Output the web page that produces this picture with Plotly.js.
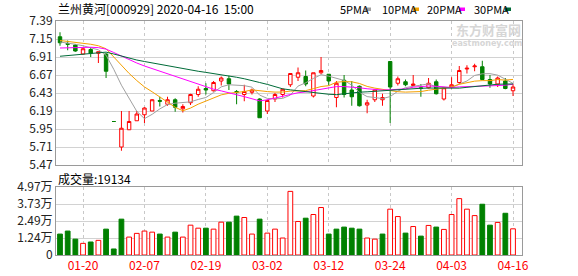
<!DOCTYPE html>
<html><head><meta charset="utf-8">
<script src="https://cdn.plot.ly/plotly-3.0.1.min.js"></script>
<style>html,body{margin:0;padding:0;background:#fff}#chart{width:578px;height:276px}</style>
</head><body><div id="chart"></div>
<script>
// ---------- data ----------
const stockName = '兰州黄河';
const stockCode = '000929';
const stampDate = '2020-04-16';
const stampTime = '15:00';
const dates = ['01-15','01-16','01-17','01-20','01-21','01-22','01-23','02-03','02-04','02-05',
  '02-06','02-07','02-10','02-11','02-12','02-13','02-14','02-17','02-18','02-19',
  '02-20','02-21','02-24','02-25','02-26','02-27','02-28','03-02','03-03','03-04',
  '03-05','03-06','03-09','03-10','03-11','03-12','03-13','03-16','03-17','03-18',
  '03-19','03-20','03-23','03-24','03-25','03-26','03-27','03-30','03-31','04-01',
  '04-02','04-03','04-07','04-08','04-09','04-10','04-13','04-14','04-15','04-16'];
const tickDates = ['01-20','02-07','02-19','03-02','03-12','03-24','04-03','04-16'];
const opens  = [7.18,7.09,7.07,6.95,7.01,6.96,6.95,6.05,5.71,5.94, 6.06,6.14,6.19,6.33,6.28,6.34,6.22,6.30,6.41,6.49,
  6.46,6.59,6.62,6.45,6.41,6.44,6.35,6.19,6.35,6.41, 6.54,6.64,6.65,6.39,6.70,6.68,6.37,6.60,6.47,6.52,
  6.27,6.34,6.34,6.85,6.56,6.58,6.53,6.50,6.50,6.58, 6.35,6.51,6.57,6.75,6.78,6.78,6.61,6.55,6.59,6.46];
const highs  = [7.24,7.13,7.08,7.03,7.04,6.98,6.96,6.05,6.19,6.19, 6.19,6.24,6.35,6.38,6.38,6.36,6.28,6.42,6.52,6.56,
  6.59,6.65,6.66,6.47,6.54,6.49,6.36,6.34,6.43,6.49, 6.69,6.77,6.73,6.70,6.91,6.68,6.59,6.67,6.59,6.53,
  6.34,6.48,6.42,6.85,6.65,6.61,6.67,6.55,6.63,6.61, 6.51,6.64,6.79,6.80,6.82,6.86,6.67,6.65,6.63,6.55];
const lows   = [7.06,7.00,6.98,6.94,6.91,6.83,6.63,6.05,5.66,5.94, 6.06,6.03,6.19,6.25,6.26,6.18,6.17,6.27,6.38,6.41,
  6.45,6.53,6.47,6.28,6.32,6.41,6.10,6.15,6.31,6.37, 6.51,6.59,6.52,6.37,6.68,6.53,6.24,6.37,6.26,6.25,
  6.16,6.31,6.26,6.03,6.53,6.52,6.53,6.38,6.49,6.41, 6.33,6.49,6.55,6.69,6.72,6.60,6.50,6.51,6.48,6.39];
const closes = [7.10,7.08,6.99,7.02,6.96,6.98,6.72,6.05,5.96,6.05, 6.15,6.23,6.34,6.32,6.34,6.24,6.25,6.41,6.48,6.47,
  6.57,6.63,6.55,6.44,6.45,6.47,6.10,6.33,6.41,6.48, 6.69,6.70,6.55,6.70,6.73,6.59,6.56,6.41,6.38,6.26,
  6.30,6.47,6.37,6.51,6.62,6.54,6.55,6.49,6.56,6.42, 6.50,6.54,6.73,6.76,6.79,6.61,6.55,6.63,6.49,6.51];
const volumes = [15300,17500,11600,8500,9500,10700,18900,4400,26200,13100,
  15800,17500,16700,15300,13100,16700,13100,21800,19600,19600,
  18900,24000,24000,28400,27400,15300,26200,16000,18900,12400,
  46500,24500,26900,29600,34700,15300,18900,20400,19600,18900,
  12400,11600,15300,33500,28100,16000,20800,13800,21600,20400,
  18700,29600,41200,33500,28800,37100,21800,23800,30500,19134];
// moving-average values for days whose window reaches before the first candle
const ma5Early  = [7.11,7.10,7.08,7.06];
const ma10Early = [7.13,7.12,7.11,7.10,7.08,7.06,7.02,6.91,6.80];
const ma20Early = [7.03,7.035,7.04,7.04,7.04,7.035,7.015,6.97,6.92,6.87,6.83,6.79,6.755,6.72,6.69,6.655,6.62,6.585,6.545];
const ma30Early = [6.92,6.93,6.94,6.95,6.96,6.97,6.975,6.95,6.92,6.895,6.87,6.85,6.83,6.81,6.79,6.775,6.76,6.74,6.72,6.705,
  6.69,6.675,6.66,6.64,6.62,6.60,6.57,6.545,6.515];
const maNames = ['5PMA','10PMA','20PMA','30PMA'];
const maPeriods = [5,10,20,30];
const priceTicks = [5.47,5.71,5.95,6.19,6.43,6.67,6.91,7.15,7.39];
const volTicks = [0,12425,24850,37275,49700];
const volTickText = ['0','1.24万','2.49万','3.73万','4.97万'];
const volLabel = '成交量';

// ---------- styles ----------
const UP = '#ff0000', DOWN = '#008000';
const maColors = ['#a0a0a0','#f5a000','#ff00ff','#006b38'];
const FONT = 'SimSun, "Noto Sans CJK SC", "DejaVu Sans", sans-serif';
const L = 56, R = 522, T = 21, B = 255;
const px = x => (x - L) / (R - L);
const py = y => (B - y) / (B - T);
const legendTextX = [338, 380, 425, 472];
const legendMarkX = [365, 413, 459, 505];

// ---------- derived ----------
const xs = dates.map((d, i) => i);
const tickIdx = tickDates.map(d => dates.indexOf(d));
const earlyMap = [ma5Early, ma10Early, ma20Early, ma30Early];
function movingAvg(n, early) {
  return closes.map((c, i) => {
    if (i < n - 1) return early[i];
    let s = 0; for (let k = i - n + 1; k <= i; k++) s += closes[k];
    return s / n;
  });
}
const volUp = closes.map((c, i) => i === 0 ? c >= opens[i] : c >= closes[i - 1]);

const traces = [];
traces.push({
  type: 'candlestick', x: xs, open: opens, high: highs, low: lows, close: closes,
  xaxis: 'x', yaxis: 'y', whiskerwidth: 0, hoverinfo: 'skip', showlegend: false,
  increasing: {line: {color: UP, width: 1}, fillcolor: '#ffffff'},
  decreasing: {line: {color: DOWN, width: 1}, fillcolor: DOWN}
});
maPeriods.forEach((n, k) => {
  traces.push({type: 'scatter', mode: 'lines', x: xs, y: movingAvg(n, earlyMap[k]),
    xaxis: 'x', yaxis: 'y', line: {color: maColors[k], width: 1}, hoverinfo: 'skip', showlegend: false});
});
traces.push({
  type: 'bar', x: xs, y: volumes, xaxis: 'x2', yaxis: 'y2', width: 0.62, hoverinfo: 'skip', showlegend: false,
  marker: {color: volUp.map(u => u ? '#ffffff' : DOWN),
           line: {color: volUp.map(u => u ? UP : DOWN), width: 1}}
});

const xRange = [-0.521, 60.17];
const axCommon = {range: xRange, tickvals: tickIdx, ticktext: tickDates, showgrid: true,
  gridcolor: '#c8c8c8', griddash: '3px,3px', gridwidth: 1, zeroline: false, showline: true, mirror: true,
  linecolor: '#9a9a9a', linewidth: 1, ticks: '', fixedrange: true};

const annotations = [
  {text: stockName + '[' + stockCode + ']\u00a0' + stampDate + '\u00a0\u00a0' + stampTime,
   x: px(56), y: py(9), xanchor: 'left', yanchor: 'middle'},
  {text: volLabel + ':' + volumes[volumes.length - 1], x: px(56), y: py(178), xanchor: 'left', yanchor: 'middle'},
  {text: '东方财富网', x: px(488), y: py(30), xanchor: 'center', yanchor: 'middle',
   font: {family: FONT, size: 13, color: '#d6d6d6', weight: 'bold'}},
  {text: 'eastmoney.com', x: px(487), y: py(43.5), xanchor: 'center', yanchor: 'middle',
   font: {family: '"DejaVu Sans", sans-serif', size: 8, color: '#d6d6d6', weight: 'bold'}}
].map(a => Object.assign({xref: 'paper', yref: 'paper', showarrow: false,
  font: {family: FONT, size: 12, color: '#000'}}, a));

const shapes = [];
maNames.forEach((nm, k) => {
  annotations.push({text: nm, xref: 'paper', yref: 'paper', x: px(legendTextX[k]), y: py(9),
    xanchor: 'left', yanchor: 'middle', showarrow: false, font: {family: FONT, size: 11, color: '#000'}});
  shapes.push({type: 'rect', xref: 'paper', yref: 'paper', layer: 'above',
    x0: px(legendMarkX[k]), x1: px(legendMarkX[k] + 6),
    y0: py(11), y1: py(7.5), fillcolor: maColors[k], line: {width: 0}});
});

const layout = {
  width: 578, height: 276, margin: {l: L, r: 578 - R, t: T, b: 276 - B},
  paper_bgcolor: '#ffffff', plot_bgcolor: '#ffffff', showlegend: false, boxgap: 0.36,
  font: {family: FONT, size: 12, color: '#111'},
  xaxis: Object.assign({}, axCommon, {domain: [0, 1], anchor: 'y', showticklabels: false,
    rangeslider: {visible: false}}),
  xaxis2: Object.assign({}, axCommon, {domain: [0, 1], anchor: 'y2', matches: 'x', showticklabels: true,
    tickfont: {family: FONT, size: 12, color: '#ff0000'}}),
  yaxis: {domain: [py(165), 1], anchor: 'x', range: [priceTicks[0], priceTicks[priceTicks.length - 1]],
    tickvals: priceTicks, ticktext: priceTicks.map(v => v.toFixed(2)), showgrid: true, gridcolor: '#d2d2d2',
    zeroline: false, showline: true, mirror: true, linecolor: '#9a9a9a', linewidth: 1, ticks: '',
    tickfont: {family: FONT, size: 12, color: '#222'}, fixedrange: true},
  yaxis2: {domain: [0, py(187)], anchor: 'x2', range: [0, volTicks[volTicks.length - 1]],
    tickvals: volTicks, ticktext: volTickText, showgrid: true, gridcolor: '#d2d2d2',
    zeroline: false, showline: true, mirror: true, linecolor: '#9a9a9a', linewidth: 1, ticks: '',
    tickfont: {family: FONT, size: 12, color: '#222'}, fixedrange: true},
  annotations: annotations, shapes: shapes
};
Plotly.newPlot('chart', traces, layout, {staticPlot: true, displayModeBar: false});
</script></body></html>
